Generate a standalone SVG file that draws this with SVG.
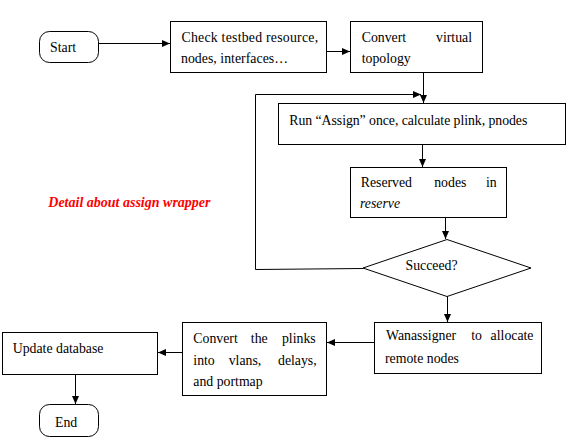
<svg xmlns="http://www.w3.org/2000/svg" width="570" height="440" viewBox="0 0 570 440">
<style>
.box{fill:#fff;stroke:#000;stroke-width:1}
.t{font-family:"Liberation Serif","Times New Roman",serif;font-size:13.8px;fill:#000}
.i{font-style:italic}
.c{fill:none;stroke:#000;stroke-width:1}
.red{font-family:"Liberation Serif","Times New Roman",serif;font-size:14px;font-weight:bold;font-style:italic;fill:#ff0000}
</style>
<defs>
<marker id="ah" markerUnits="userSpaceOnUse" markerWidth="8" markerHeight="7" refX="8" refY="3.5" orient="auto">
<path d="M0,0 L8,3.5 L0,7 z" fill="#000"/>
</marker>
</defs>
<g id="connectors">
<line class="c" x1="99" y1="43.5" x2="170" y2="43.5" marker-end="url(#ah)"/>
<line class="c" x1="327" y1="51.5" x2="350" y2="51.5" marker-end="url(#ah)"/>
<line class="c" x1="423.5" y1="72" x2="423.5" y2="103" marker-end="url(#ah)"/>
<polyline class="c" points="363,268.5 255.5,269.5 255.5,94.5 421,94.5" marker-end="url(#ah)"/>
<line class="c" x1="422.5" y1="144" x2="422.5" y2="167" marker-end="url(#ah)"/>
<line class="c" x1="445.5" y1="218" x2="445.5" y2="239" marker-end="url(#ah)"/>
<line class="c" x1="447.5" y1="296" x2="447.5" y2="322" marker-end="url(#ah)"/>
<line class="c" x1="374" y1="342.5" x2="327" y2="342.5" marker-end="url(#ah)"/>
<line class="c" x1="182" y1="352.5" x2="158" y2="352.5" marker-end="url(#ah)"/>
<line class="c" x1="75.5" y1="375" x2="75.5" y2="404" marker-end="url(#ah)"/>
</g>
<g id="start">
<rect class="box" x="39.5" y="31.5" width="59" height="31" rx="10"/>
<text class="t" x="50" y="52">Start</text>
</g>
<g id="check">
<rect class="box" x="170.5" y="21.5" width="156" height="51"/>
<text class="t" x="181.5" y="41.7" textLength="136.6" lengthAdjust="spacing">Check testbed resource,</text>
<text class="t" x="181" y="63.3" textLength="107" lengthAdjust="spacing">nodes, interfaces…</text>
</g>
<g id="convert-virtual">
<rect class="box" x="350.5" y="21.5" width="132" height="51"/>
<text class="t" y="41.7"><tspan x="361.7">Convert</tspan><tspan x="472" text-anchor="end">virtual</tspan></text>
<text class="t" x="361.7" y="63.3">topology</text>
</g>
<g id="run-assign">
<rect class="box" x="278.5" y="103.5" width="287" height="41"/>
<text class="t" x="289.3" y="125" textLength="238" lengthAdjust="spacing">Run “Assign” once, calculate plink, pnodes</text>
</g>
<g id="reserved">
<rect class="box" x="350.5" y="167.5" width="156" height="50"/>
<text class="t" y="187"><tspan x="360.7">Reserved</tspan><tspan x="450.3" text-anchor="middle">nodes</tspan><tspan x="496.7" text-anchor="end">in</tspan></text>
<text class="t i" x="360" y="208">reserve</text>
</g>
<g id="succeed">
<polygon class="box" points="447,239.5 531,268 447,296.5 363,268"/>
<text class="t" x="431.5" y="270" text-anchor="middle">Succeed?</text>
</g>
<g id="wanassigner">
<rect class="box" x="374.5" y="322.5" width="167" height="51"/>
<text class="t" y="340"><tspan x="386">Wanassigner</tspan><tspan x="476.5" text-anchor="middle">to</tspan><tspan x="533.5" text-anchor="end">allocate</tspan></text>
<text class="t" x="385" y="362.7">remote nodes</text>
</g>
<g id="convert-plinks">
<rect class="box" x="182.5" y="322.5" width="144" height="73"/>
<text class="t" y="343.3"><tspan x="193.3">Convert</tspan><tspan x="259.3" text-anchor="middle">the</tspan><tspan x="315.7" text-anchor="end">plinks</tspan></text>
<text class="t" y="365"><tspan x="193.3">into</tspan><tspan x="245" text-anchor="middle">vlans,</tspan><tspan x="316.7" text-anchor="end">delays,</tspan></text>
<text class="t" x="193.3" y="385.7">and portmap</text>
</g>
<g id="update">
<rect class="box" x="2.5" y="332.5" width="155" height="42"/>
<text class="t" x="12.7" y="353.3">Update database</text>
</g>
<g id="end">
<rect class="box" x="39.5" y="404.5" width="59" height="32" rx="10"/>
<text class="t" x="55" y="427.3">End</text>
</g>
<g id="note">
<text class="red" x="48.3" y="206.7">Detail about assign wrapper</text>
</g>
</svg>
